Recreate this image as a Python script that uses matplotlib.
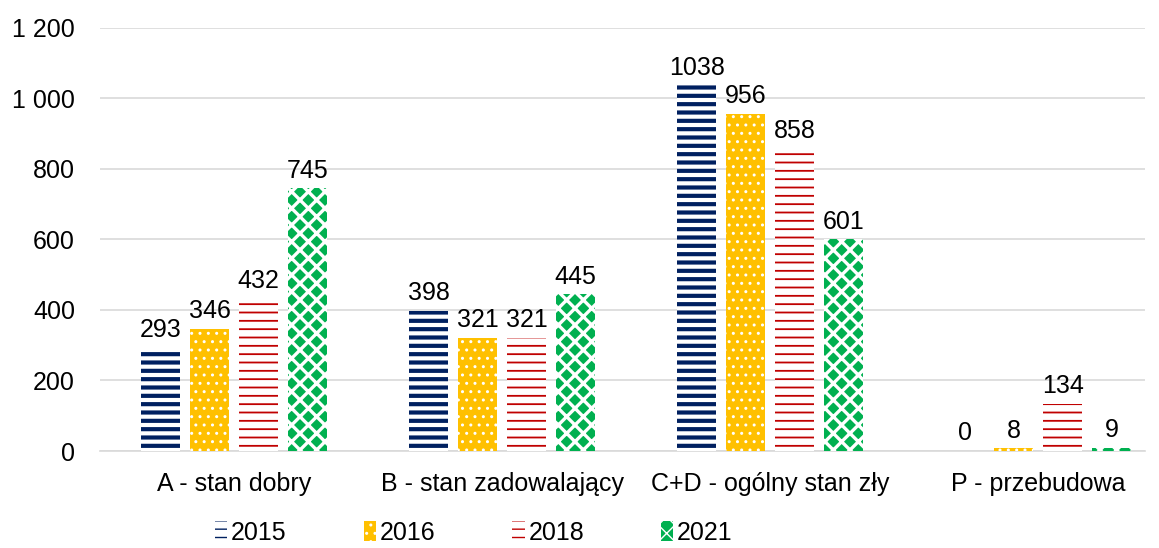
import matplotlib
matplotlib.use("Agg")
import matplotlib.pyplot as plt
import numpy as np
from matplotlib.ticker import FuncFormatter

plt.rcParams['font.family'] = ['Liberation Sans', 'DejaVu Sans']

categories = ["A - stan dobry", "B - stan zadowalający", "C+D - ogólny stan zły", "P - przebudowa"]
years = ["2015", "2016", "2018", "2021"]
v2015 = [293, 398, 1038, 0]
v2016 = [346, 321, 956, 8]
v2018 = [432, 321, 858, 134]
v2021 = [745, 445, 601, 9]

# face, hatch colour, hatch, hatch linewidth
styles = [
    ("white", "#002060", "--", 3.0),
    ("#FFC000", "white", "..", 1.0),
    ("white", "#C00000", "--", 1.3),
    ("#00B050", "white", "xx", 2.4),
]

fs = 18

fig = plt.figure(figsize=(11.59, 5.48), dpi=100)
ax = fig.add_axes([0.0863, 0.177, 0.902, 0.772])

x = np.arange(len(categories))
width = 0.145
pitch = 0.183
bars = []
for i, vals in enumerate([v2015, v2016, v2018, v2021]):
    face, hc, hatch, hlw = styles[i]
    with plt.rc_context({'hatch.linewidth': hlw}):
        b = ax.bar(x + (i - 1.5) * pitch, vals, width, color=face, edgecolor=hc,
                   hatch=hatch, linewidth=0, label=years[i], zorder=3)
    for p in b.patches:
        if hasattr(p, "set_hatch_linewidth"):
            p.set_hatch_linewidth(hlw)
    ax.bar_label(b, padding=4, fontsize=fs, zorder=4)
    bars.append(b)

ax.set_ylim(0, 1200)
ax.set_xlim(-0.5, 3.4)
ax.set_yticks(range(0, 1201, 200))
ax.yaxis.set_major_formatter(FuncFormatter(lambda v, p: f"{int(v):,}".replace(",", " ")))
ax.set_xticks(x)
ax.set_xticklabels(categories)
ax.tick_params(axis='both', length=0, labelsize=fs, colors="black")
ax.tick_params(axis='y', pad=18)
ax.tick_params(axis='x', pad=15)
ax.grid(axis='y', color="#D9D9D9", linewidth=1.2, zorder=0)
for s in ["top", "right", "left"]:
    ax.spines[s].set_visible(False)
ax.spines["bottom"].set_color("#D9D9D9")
ax.spines["bottom"].set_linewidth(1.2)

fig.legend(handles=bars, labels=years, loc="lower left", bbox_to_anchor=(0.166, -0.035),
           ncol=4, frameon=False, fontsize=fs, handlelength=0.5, handleheight=0.8,
           handletextpad=0.15, columnspacing=3.07)

fig.savefig("out.png", dpi=100)
